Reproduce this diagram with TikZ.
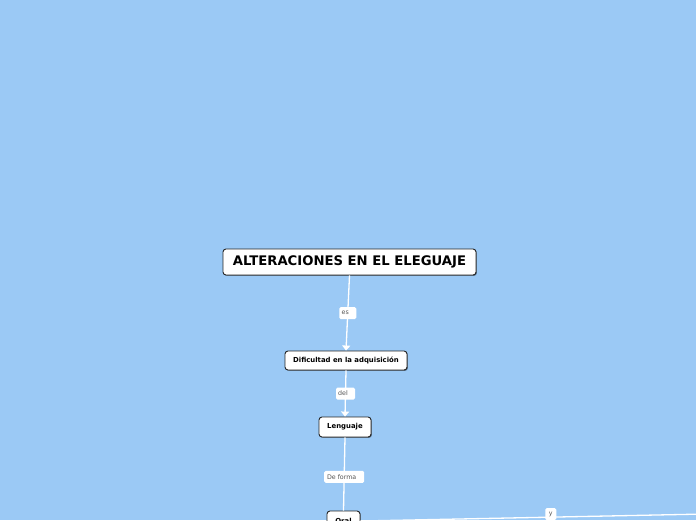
\documentclass[tikz,border=0pt]{standalone}
\usepackage{fontspec}
\setmainfont{DejaVu Sans}
\usetikzlibrary{arrows.meta,shadows}
\definecolor{bgblue}{RGB}{155,201,245}
\definecolor{lblgray}{RGB}{85,85,85}
\tikzset{
  topic/.style={draw=black!85, line width=0.9pt, fill=white, rounded corners=3pt,
    inner sep=0pt, font=\bfseries,
    drop shadow={shadow xshift=0.9pt, shadow yshift=-0.9pt, opacity=0.45, fill=black}},
  lbl/.style={fill=white, rounded corners=1.5pt, inner sep=0pt, text=lblgray,
    font=\fontsize{6.3}{7}\selectfont, minimum height=12pt},
  conn/.style={draw=white, line width=1.3pt},
  arr/.style={conn, -{Triangle[width=8pt,length=5pt]}}
}
\begin{document}
\begin{tikzpicture}[x=1pt,y=-1pt]
\useasboundingbox (0,0) rectangle (696,520);
\fill[bgblue] (0,0) rectangle (696,520);
\clip (0,0) rectangle (696,520);
\node[topic, minimum width=253pt, minimum height=26pt, font=\bfseries\fontsize{13.2}{15}\selectfont] (title) at (349.5,262) {ALTERACIONES EN EL ELEGUAJE};
\node[topic, minimum width=122pt, minimum height=19pt, font=\bfseries\fontsize{6.9}{8}\selectfont] (dif) at (346,360.5) {Dificultad en la adquisición};
\node[topic, minimum width=52pt, minimum height=20pt, font=\bfseries\fontsize{6.9}{8}\selectfont] (len) at (345,427) {Lenguaje};
\node[topic, minimum width=33pt, minimum height=20pt, font=\bfseries\fontsize{6.9}{8}\selectfont] (oral) at (343.5,521) {Oral};
\coordinate (far) at (730,513.5);
\draw[arr] (title.south) -- node[lbl, minimum width=17pt, pos=0.5] (les) {es\kern5pt} (dif.north);
\draw[arr] (dif.south) -- node[lbl, minimum width=19pt, pos=0.5] (ldel) {del\kern5pt} (len.north);
\draw[conn] (len.south) -- node[lbl, minimum width=40pt, pos=0.54] (ldf) {De forma\kern5pt} (oral.north);
\draw[conn] (oral.east) -- node[lbl, minimum width=11pt, pos=0.515, yshift=3pt] (ly) {y} (far);
\end{tikzpicture}
\end{document}
